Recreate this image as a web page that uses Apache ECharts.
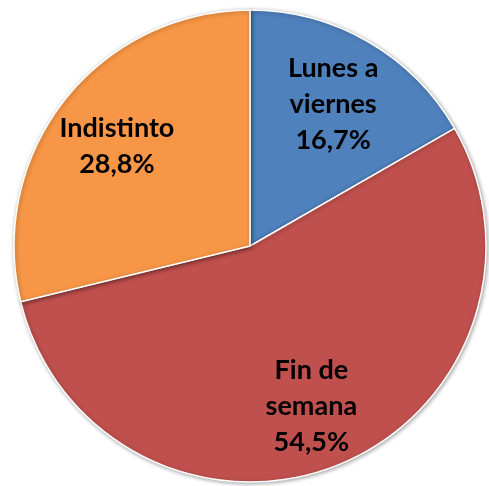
<!DOCTYPE html>
<html><head><meta charset="utf-8">
<script src="https://cdn.jsdelivr.net/npm/echarts@6/dist/echarts.min.js"></script>
<style>html,body{margin:0;padding:0;background:#fff}#c{width:489px;height:486px}</style>
</head><body><div id="c"></div>
<script>
const categories = ['Lunes a\nviernes', 'Fin de\nsemana', 'Indistinto'];
const values = [16.7, 54.5, 28.8];
const colors = ['#4F81BD', '#C0504D', '#F79646'];

const data = categories.map((c, i) => ({ name: c, value: values[i], itemStyle: { color: colors[i] } }));
const labelData = categories.map((c, i) => ({ name: c, value: values[i] }));

const chart = echarts.init(document.getElementById('c'), null, { renderer: 'canvas' });
chart.setOption({
  animation: false,
  series: [
    {
      type: 'pie',
      center: [250, 246],
      radius: [0, 236],
      startAngle: 90,
      clockwise: true,
      data: data,
      label: { show: false },
      labelLine: { show: false },
      itemStyle: { borderColor: '#fff', borderWidth: 1.5, shadowBlur: 4, shadowColor: 'rgba(0,0,0,0.35)', shadowOffsetX: 1, shadowOffsetY: 1 },
      emphasis: { disabled: true }
    },
    {
      type: 'pie',
      center: [249, 250],
      radius: [0, 330],
      startAngle: 90,
      clockwise: true,
      silent: true,
      data: labelData,
      itemStyle: { color: 'rgba(0,0,0,0)' },
      label: {
        show: true,
        position: 'inside',
        formatter: p => p.name + '\n' + p.value.toFixed(1).replace('.', ',') + '%',
        fontFamily: 'Lato',
        fontWeight: 'bold',
        fontSize: 27,
        lineHeight: 36,
        color: '#000'
      },
      labelLine: { show: false },
      emphasis: { disabled: true }
    }
  ]
});
</script></body></html>
